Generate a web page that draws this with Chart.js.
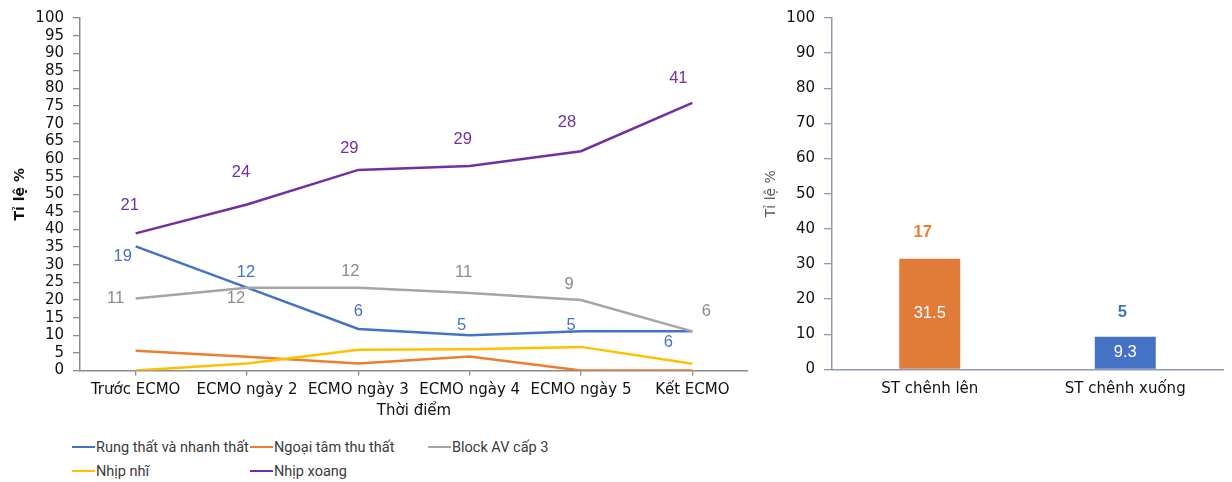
<!DOCTYPE html>
<html>
<head>
<meta charset="utf-8">
<script src="https://cdn.jsdelivr.net/npm/chart.js@4.4.1/dist/chart.umd.min.js"></script>
<style>
  html, body { margin: 0; padding: 0; background: #fff; }
  body { width: 1232px; height: 482px; position: relative; overflow: hidden; }
  #left { position: absolute; left: 0; top: 0; }
  #right { position: absolute; left: 760px; top: 0; }
  .leg { position: absolute; font: 14.5px Roboto, sans-serif; color: #3a3a3a; white-space: nowrap; line-height: 16px; }
  .leg i { display: inline-block; width: 23px; height: 2px; vertical-align: middle; margin-right: 1px; position: relative; top: -1px; }
</style>
</head>
<body>
<canvas id="left" width="760" height="425"></canvas>
<canvas id="right" width="472" height="425"></canvas>
<div id="legend"></div>
<script>
// Thời điểm theo dõi
const timepoints = ['Trước ECMO', 'ECMO ngày 2', 'ECMO ngày 3', 'ECMO ngày 4', 'ECMO ngày 5', 'Kết ECMO'];

// Tỉ lệ % từng loại rối loạn nhịp
const rungThatPct    = [35.2, 23.5, 11.8, 10.0, 11.1, 11.1];
const ngoaiTamThuPct = [5.6, 3.9, 2.0, 4.0, 0, 0];
const blockAvPct     = [20.4, 23.5, 23.5, 22.0, 20.0, 11.1];
const nhipNhiPct     = [0, 2.0, 5.9, 6.0, 6.7, 1.9];
const nhipXoangPct   = [38.9, 47.1, 56.9, 58.0, 62.2, 75.9];

// Số bệnh nhân ghi cạnh điểm
const rungThatN  = [19, 12, 6, 5, 5, 6];
const blockAvN   = [11, 12, 12, 11, 9, 6];
const nhipXoangN = [21, 24, 29, 29, 28, 41];

// Biến đổi ST
const stCategories = ['ST chênh lên', 'ST chênh xuống'];
const stPct = [31.5, 9.3];
const stN   = [17, 5];

// Trục tung
const leftTicks  = { min: 0, max: 100, step: 5 };
const rightTicks = { min: 0, max: 100, step: 10 };

// Vị trí nhãn số so với điểm (dx, dy)
const rungThatOffsets  = [[-13, 10], [-1, -15], [0, -17], [-8, -10], [-10, -6], [-24, 11]];
const blockAvOffsets   = [[-20, 0], [-11, 11], [-8, -16], [-6, -20], [-12, -16], [14, -20]];
const nhipXoangOffsets = [[-6, -28], [-6, -32], [-9, -21], [-7, -27], [-14, -29], [-14, -24]];

const FONT = '"DejaVu Sans", sans-serif';
const LABEL_FONT = '"Liberation Sans", Arial, sans-serif';

const pointLabels = {
  id: 'pointLabels',
  afterDatasetsDraw(chart) {
    const ctx = chart.ctx;
    chart.data.datasets.forEach((ds, i) => {
      if (!ds.labelText) return;
      const meta = chart.getDatasetMeta(i);
      meta.data.forEach((el, j) => {
        const t = ds.labelText[j];
        if (t == null) return;
        const off = ds.labelOffset ? ds.labelOffset[j] : [0, 0];
        let x = el.x + off[0], y = el.y + off[1];
        if (ds.labelInside) y = (el.y + el.base) / 2;
        ctx.save();
        ctx.font = ds.labelFont || ('16.5px ' + LABEL_FONT);
        ctx.fillStyle = ds.labelColor;
        ctx.textAlign = 'center';
        ctx.textBaseline = 'middle';
        ctx.fillText(String(t), x, y);
        ctx.restore();
      });
    });
  }
};

const series = [
  { label: 'Rung thất và nhanh thất', data: rungThatPct, color: '#4472C4', n: rungThatN, off: rungThatOffsets, lc: '#4472C4', order: 4 },
  { label: 'Ngoại tâm thu thất', data: ngoaiTamThuPct, color: '#ED7D31', order: 3 },
  { label: 'Block AV cấp 3', data: blockAvPct, color: '#A5A5A5', n: blockAvN, off: blockAvOffsets, lc: '#8C8C8C', order: 2 },
  { label: 'Nhịp nhĩ', data: nhipNhiPct, color: '#FFC000', order: 1 },
  { label: 'Nhịp xoang', data: nhipXoangPct, color: '#7030A0', n: nhipXoangN, off: nhipXoangOffsets, lc: '#7030A0', order: 0 }
];

new Chart(document.getElementById('left'), {
  type: 'line',
  data: {
    labels: timepoints,
    datasets: series.map(s => ({
      label: s.label,
      data: s.data,
      borderColor: s.color,
      backgroundColor: s.color,
      borderWidth: 2.5,
      pointRadius: 0,
      tension: 0,
      order: s.order,
      labelText: s.n,
      labelOffset: s.off,
      labelColor: s.lc
    }))
  },
  options: {
    responsive: false,
    animation: false,
    layout: { padding: { left: 8, right: 12, top: 16, bottom: 0 } },
    plugins: { legend: { display: false }, tooltip: { enabled: false } },
    scales: {
      x: {
        offset: true,
        grid: { display: true, drawOnChartArea: false, offset: false, tickLength: 5, color: '#8C8C8C', lineWidth: 1.3 },
        border: { color: '#8C8C8C', width: 1.5 },
        ticks: { color: '#111', font: { family: FONT, size: 15 }, padding: 6, maxRotation: 0, autoSkip: false },
        title: { display: true, text: 'Thời điểm', color: '#111', font: { family: FONT, size: 15 }, padding: { top: 0, bottom: 5 } },
        afterFit(scale) { scale.height = 54.5; }
      },
      y: {
        min: leftTicks.min, max: leftTicks.max,
        grid: { display: true, drawOnChartArea: false, tickLength: 7, color: '#8C8C8C', lineWidth: 1.3 },
        border: { color: '#8C8C8C', width: 1.5 },
        ticks: { stepSize: leftTicks.step, autoSkip: false, color: '#111', font: { family: FONT, size: 15 }, padding: 9 },
        title: { display: true, text: 'Tỉ lệ %', color: '#111', font: { family: FONT, size: 14, weight: 'bold' }, padding: { top: 4, bottom: 4 } },
        afterFit(scale) { scale.width = 72; }
      }
    }
  },
  plugins: [pointLabels]
});

new Chart(document.getElementById('right'), {
  type: 'bar',
  data: {
    labels: stCategories,
    datasets: [
      {
        data: stPct,
        backgroundColor: ['#E07B39', '#4472C4'],
        barPercentage: 0.312,
        categoryPercentage: 1,
        labelText: stPct.map(v => v.toFixed(1)),
        labelInside: true,
        labelColor: '#FFFFFF',
        labelFont: '16.5px ' + LABEL_FONT
      }
    ]
  },
  options: {
    responsive: false,
    animation: false,
    layout: { padding: { left: 0, right: 9, top: 16, bottom: 0 } },
    plugins: {
      legend: { display: false }, tooltip: { enabled: false }
    },
    scales: {
      x: {
        grid: { display: true, drawOnChartArea: false, drawTicks: false },
        border: { color: '#8E9AB2', width: 1.5 },
        ticks: { color: '#111', font: { family: FONT, size: 15 }, padding: 11, maxRotation: 0 },
        afterFit(scale) { scale.height = 55.7; }
      },
      y: {
        min: rightTicks.min, max: rightTicks.max,
        grid: { display: true, drawOnChartArea: false, tickLength: 8, color: '#8E9AB2', lineWidth: 1.3 },
        border: { color: '#8E9AB2', width: 1.5 },
        ticks: { stepSize: rightTicks.step, autoSkip: false, color: '#111', font: { family: FONT, size: 15 }, padding: 9 },
        title: { display: true, text: 'Tỉ lệ %', color: '#595959', font: { family: FONT, size: 14 }, padding: { top: 3.3, bottom: 4 } },
        afterFit(scale) { scale.width = 72; }
      }
    }
  },
  plugins: [pointLabels, {
    id: 'countLabels',
    afterDatasetsDraw(chart) {
      const ctx = chart.ctx;
      const meta = chart.getDatasetMeta(0);
      const colors = ['#ED7D31', '#4472C4'];
      const offs = [[-7, -26], [-3, -24]];
      meta.data.forEach((el, j) => {
        ctx.save();
        ctx.font = 'bold 16.5px ' + LABEL_FONT;
        ctx.fillStyle = colors[j];
        ctx.textAlign = 'center';
        ctx.textBaseline = 'middle';
        ctx.fillText(String(stN[j]), el.x + offs[j][0], el.y + offs[j][1]);
        ctx.restore();
      });
    }
  }]
});

// Chú thích bên dưới biểu đồ đường
const legendCols = [72, 250, 428];
const legendRows = [448, 472];
const legendBox = document.getElementById('legend');
series.forEach((s, k) => {
  const d = document.createElement('div');
  d.className = 'leg';
  d.style.left = legendCols[k % 3] + 'px';
  d.style.top = (legendRows[Math.floor(k / 3)] - 8) + 'px';
  d.innerHTML = '<i style="background:' + s.color + '"></i>' + s.label;
  legendBox.appendChild(d);
});
</script>
</body>
</html>
